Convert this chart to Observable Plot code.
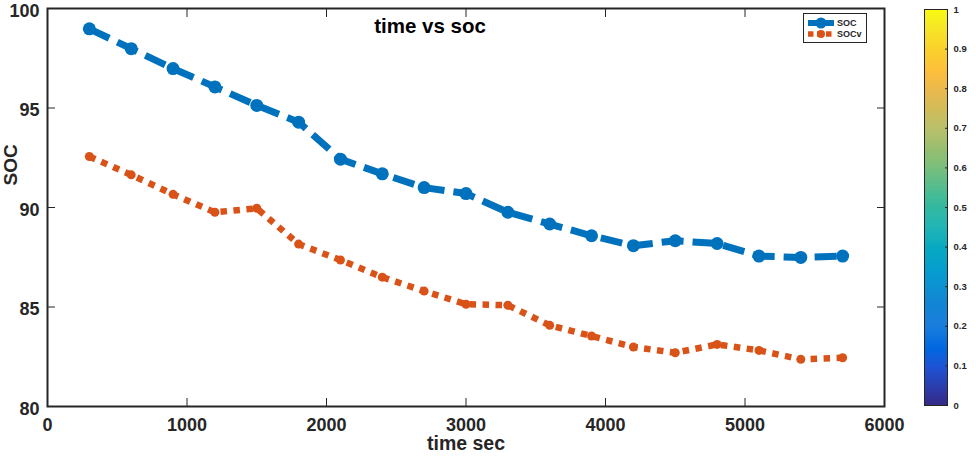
<!DOCTYPE html>
<html>
<head>
<meta charset="utf-8">
<script src="https://cdn.jsdelivr.net/npm/d3@7"></script>
<script src="https://cdn.jsdelivr.net/npm/@observablehq/plot@0.6"></script>
<style>
  html, body { margin: 0; padding: 0; background: #fff; }
  #wrap { position: relative; width: 976px; height: 456px; overflow: hidden; font-family: "Liberation Sans", Arial, sans-serif; }
  #main, #cbar { position: absolute; top: 0; }
  #main { left: 0; }
  #cbar { left: 900px; }
  #title { position: absolute; left: 330px; width: 200px; top: 14px; text-align: center; font-weight: bold; font-size: 20.5px; color: #000; }
  #legend { position: absolute; left: 803px; top: 13px; width: 62px; height: 28px; border: 1.5px solid #262626; background: #fff; font-size: 9px; font-weight: bold; color: #262626; }
  #legend .row { position: absolute; left: 4px; height: 12px; display: flex; align-items: center; }
  #legend svg { margin-right: 3px; }
</style>
</head>
<body>
<div id="wrap">
  <div id="main"></div>
  <div id="cbar"></div>
  <div id="title">time vs soc</div>
  <div id="legend"></div>
</div>
<script>
// Time stamps (seconds) and the two state-of-charge estimates
const timeSec = [300, 600, 900, 1200, 1500, 1800, 2100, 2400, 2700, 3000,
                 3300, 3600, 3900, 4200, 4500, 4800, 5100, 5400, 5700];
const soc  = [98.98, 97.98, 96.98, 96.06, 95.13, 94.29, 92.43, 91.69, 91.0, 90.7,
              89.76, 89.17, 88.58, 88.08, 88.33, 88.19, 87.56, 87.49, 87.56];
const socV = [92.56, 91.64, 90.66, 89.76, 89.96, 88.16, 87.36, 86.5, 85.8, 85.14,
              85.09, 84.08, 83.54, 82.99, 82.7, 83.12, 82.82, 82.37, 82.45];

// Axis ticks
const xTicks = [0, 1000, 2000, 3000, 4000, 5000, 6000];
const yTicks = [80, 85, 90, 95, 100];
const cbTicks = [0, 0.1, 0.2, 0.3, 0.4, 0.5, 0.6, 0.7, 0.8, 0.9, 1];

// Series names and colours
const seriesNames = ["SOC", "SOCv"];
const seriesColors = ["#0072BD", "#D95319"];

// Parula colour map stops for the colour bar
const parula = ["#352a87", "#2053d4", "#0268e1", "#1079da", "#1389d3", "#079ccf",
                "#07a9c2", "#1db3af", "#42bb98", "#7cbf7b", "#a5be6b", "#c8bc5d",
                "#e9b94e", "#fdbe3d", "#fad32a", "#f5e41d", "#f9fb0e"];
const parulaPos = [0, 6, 9, 13, 17, 21, 25, 29, 33, 38, 42, 46, 50, 53, 57, 60, 63].map(i => i / 63);

const rowsSoc = timeSec.map((t, i) => ({t, v: soc[i]}));
const rowsSocV = timeSec.map((t, i) => ({t, v: socV[i]}));

const axisColor = "#262626";
const tickFont = {fontSize: 18, fontWeight: "bold"};

const main = Plot.plot({
  width: 915,
  height: 456,
  marginLeft: 47,
  marginRight: 31,
  marginTop: 8,
  marginBottom: 50,
  style: {fontFamily: "Liberation Sans, Arial, sans-serif", color: axisColor, background: "transparent", overflow: "visible"},
  x: {domain: [0, 6000]},
  y: {domain: [80, 100]},
  marks: [
    // inward ticks on all four sides of the box
    Plot.axisX({anchor: "bottom", ticks: xTicks, tickSize: -8, tickFormat: () => "", label: null, stroke: axisColor}),
    Plot.axisX({anchor: "top", ticks: xTicks, tickSize: -8, tickFormat: () => "", label: null, stroke: axisColor}),
    Plot.axisY({anchor: "left", ticks: yTicks, tickSize: -8, tickFormat: () => "", label: null, stroke: axisColor}),
    Plot.axisY({anchor: "right", ticks: yTicks, tickSize: -8, tickFormat: () => "", label: null, stroke: axisColor}),
    // tick labels
    Plot.axisX({anchor: "bottom", ticks: xTicks, tickSize: 0, tickPadding: 12, tickFormat: d => String(d), label: null, ...tickFont}),
    Plot.axisY({anchor: "left", ticks: yTicks, tickSize: 0, tickPadding: 8, dy: 2.5, tickFormat: d => String(d), label: null, ...tickFont}),
    Plot.frame({stroke: axisColor, strokeWidth: 2}),
    // SOC: thick dashed line with filled circles
    Plot.line(rowsSoc, {x: "t", y: "v", stroke: seriesColors[0], strokeWidth: 7, strokeDasharray: "22,9", strokeLinecap: "butt"}),
    Plot.dot(rowsSoc, {x: "t", y: "v", r: 6.5, fill: seriesColors[0]}),
    // SOCv: thick dotted line with small markers
    Plot.line(rowsSocV, {x: "t", y: "v", stroke: seriesColors[1], strokeWidth: 6.5, strokeDasharray: "6.5,6.5", strokeLinecap: "butt"}),
    Plot.dot(rowsSocV, {x: "t", y: "v", r: 4.5, fill: seriesColors[1]}),
    // Axis titles
    Plot.text(["time sec"], {frameAnchor: "bottom", lineAnchor: "middle", dy: 37, fontSize: 19.5, fontWeight: "bold", fill: axisColor}),
    Plot.text(["SOC"], {frameAnchor: "left", rotate: -90, dx: -37, dy: -22, fontSize: 19, fontWeight: "bold", fill: axisColor})
  ]
});
document.getElementById("main").appendChild(main);

// Colour bar
const cbStep = 0.0025;
const cbCells = d3.range(0, 1, cbStep);
const cbar = Plot.plot({
  width: 76,
  height: 456,
  marginLeft: 24,
  marginRight: 29,
  marginTop: 9,
  marginBottom: 51,
  style: {fontFamily: "Liberation Sans, Arial, sans-serif", color: axisColor, background: "transparent"},
  x: {axis: null},
  y: {domain: [0, 1]},
  color: {type: "linear", domain: parulaPos, range: parula},
  marks: [
    Plot.rect(cbCells, {y1: d => d, y2: d => Math.min(1, d + cbStep * 1.6), fill: d => d + cbStep / 2}),
    Plot.axisY({anchor: "right", ticks: cbTicks, tickSize: -3, tickPadding: 9, tickFormat: d => String(+d.toFixed(1)), label: null, stroke: axisColor, fontSize: 9.5, fontWeight: "bold"}),
    Plot.frame({stroke: axisColor, strokeWidth: 1})
  ]
});
document.getElementById("cbar").appendChild(cbar);

// Legend entries
const legend = document.getElementById("legend");
seriesNames.forEach((name, i) => {
  const row = document.createElement("div");
  row.className = "row";
  row.style.top = (i === 0 ? 3 : 14) + "px";
  const sw = d3.create("svg").attr("width", 26).attr("height", 12);
  sw.append("line").attr("x1", 0).attr("x2", 26).attr("y1", 6).attr("y2", 6)
    .attr("stroke", seriesColors[i]).attr("stroke-width", i === 0 ? 6 : 5.5)
    .attr("stroke-dasharray", i === 0 ? null : "5.5,3.5");
  sw.append("circle").attr("cx", 13).attr("cy", 6).attr("r", i === 0 ? 5.5 : 4).attr("fill", seriesColors[i]);
  row.appendChild(sw.node());
  const label = document.createElement("span");
  label.textContent = name;
  row.appendChild(label);
  legend.appendChild(row);
});
</script>
</body>
</html>
